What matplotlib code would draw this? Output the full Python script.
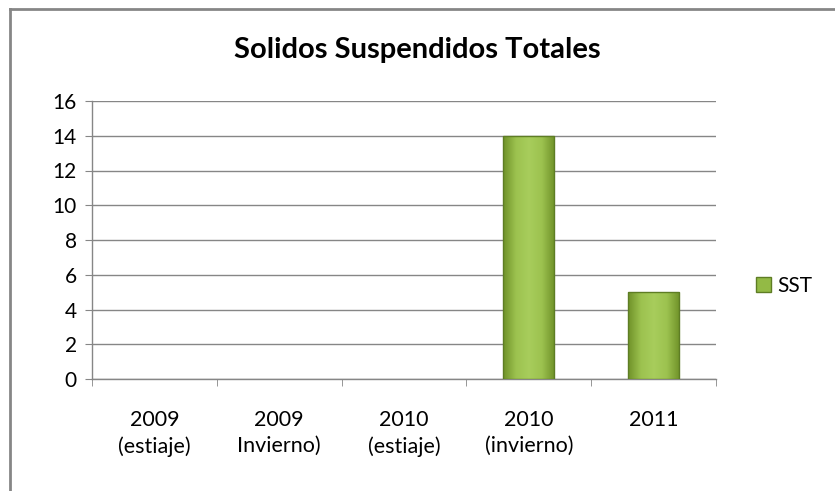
import numpy as np
import matplotlib
matplotlib.use("Agg")
import matplotlib.pyplot as plt
from matplotlib.colors import LinearSegmentedColormap
from matplotlib.patches import Rectangle
from matplotlib.lines import Line2D

plt.rcParams['font.family'] = ['Lato', 'DejaVu Sans']

categories = ["2009\n(estiaje)", "2009\nInvierno)", "2010\n(estiaje)", "2010\n(invierno)", "2011"]
sst = [0, 0, 0, 14, 5]

W, H = 835, 491
fig = plt.figure(figsize=(W / 100, H / 100), dpi=100)
ax = fig.add_axes([92 / W, 112 / H, 624 / W, 278 / H])

x = np.arange(len(categories))
bars = ax.bar(x, sst, width=0.41, color="#93BA45", edgecolor="#5E7D24", linewidth=0,
              zorder=3, label="SST")

# horizontal shading across each bar, darker at the sides
cmap = LinearSegmentedColormap.from_list("g", ["#6F9128", "#9CC24F", "#A8CD5C", "#9CC24F", "#6F9128"])
grad = np.linspace(0, 1, 256).reshape(1, -1)
for b in bars:
    if b.get_height() <= 0:
        continue
    x0, w, h = b.get_x(), b.get_width(), b.get_height()
    im = ax.imshow(grad, extent=[x0, x0 + w, 0, h], aspect="auto", cmap=cmap,
                   zorder=3.5, origin="lower")
    im.set_clip_path(b)
    ax.add_patch(Rectangle((x0, 0), w, h, fill=False, edgecolor="#5E7D24", lw=1.0, zorder=4))

ax.set_xlim(-0.5, len(categories) - 0.5)
ax.set_ylim(0, 16)
ax.set_yticks(range(0, 17, 2))
ax.set_xticks(x)
ax.set_xticklabels(categories, fontsize=15.5, linespacing=1.4)
ax.set_xticks(np.arange(-0.5, len(categories), 1), minor=True)
ax.tick_params(axis="x", which="major", length=0, pad=22)
ax.tick_params(axis="x", which="minor", length=5, color="#868686", direction="out")
ax.tick_params(axis="y", length=5, color="#868686", labelsize=15, pad=6)

ax.grid(axis="y", color="#868686", linewidth=1.0, zorder=0)
ax.set_axisbelow(True)
for s in ["top", "right"]:
    ax.spines[s].set_visible(False)
for s in ["left", "bottom"]:
    ax.spines[s].set_color("#868686")
    ax.spines[s].set_linewidth(1.0)

fig.text(0.5, 1 - 58 / H, "Solidos Suspendidos Totales", ha="center", va="baseline",
         fontsize=21, fontweight="bold")

legend_handle = Rectangle((0, 0), 1, 1, facecolor="#93BA45", edgecolor="#5E7D24", lw=1.0)
leg = fig.legend(handles=[legend_handle], labels=["SST"], loc="center left",
                 bbox_to_anchor=(756 / W, 1 - 286 / H), frameon=False, fontsize=15,
                 handlelength=0.7, handleheight=0.7, handletextpad=0.3,
                 borderaxespad=0, borderpad=0)

# outer chart border: only top and left edges fall inside the picture
fig.add_artist(Line2D([9.5 / W, 9.5 / W], [0, 1 - 9 / H], color="#868686", lw=2))
fig.add_artist(Line2D([9.5 / W, 1], [1 - 9 / H, 1 - 9 / H], color="#868686", lw=2))

fig.savefig("out.png", dpi=100)
